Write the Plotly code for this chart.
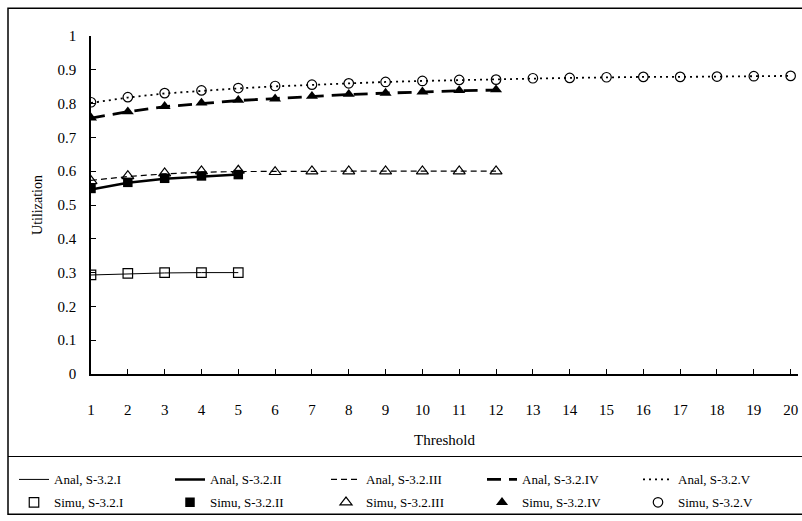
import plotly.graph_objects as go

thresholds = list(range(1, 21))

anal_I = [0.293, 0.297, 0.299, 0.300, 0.300]
simu_I = [0.293, 0.298, 0.300, 0.300, 0.300]
anal_II = [0.546, 0.566, 0.578, 0.585, 0.590]
simu_II = [0.549, 0.567, 0.579, 0.586, 0.590]
anal_III = [0.573, 0.584, 0.592, 0.597, 0.599, 0.600, 0.600, 0.600, 0.600, 0.600, 0.600, 0.600]
simu_III = [0.571, 0.586, 0.594, 0.600, 0.602, 0.598, 0.600, 0.600, 0.600, 0.600, 0.600, 0.600]
anal_IV = [0.757, 0.776, 0.791, 0.801, 0.809, 0.815, 0.822, 0.827, 0.831, 0.835, 0.838, 0.840]
simu_IV = [0.758, 0.776, 0.792, 0.802, 0.810, 0.814, 0.822, 0.828, 0.831, 0.835, 0.839, 0.841]
anal_V = [0.802, 0.818, 0.830, 0.838, 0.845, 0.851, 0.856, 0.860, 0.864, 0.867, 0.870, 0.871,
          0.874, 0.876, 0.878, 0.879, 0.879, 0.880, 0.881, 0.882]
simu_V = [0.804, 0.819, 0.831, 0.839, 0.846, 0.852, 0.856, 0.860, 0.864, 0.867, 0.870, 0.871,
          0.875, 0.876, 0.878, 0.879, 0.879, 0.880, 0.881, 0.882]

names = ["S-3.2.I", "S-3.2.II", "S-3.2.III", "S-3.2.IV", "S-3.2.V"]
anal = [anal_I, anal_II, anal_III, anal_IV, anal_V]
simu = [simu_I, simu_II, simu_III, simu_IV, simu_V]

line_styles = [
    dict(color="black", width=1, dash="solid"),
    dict(color="black", width=2.5, dash="solid"),
    dict(color="black", width=1.2, dash="6px,4px"),
    dict(color="black", width=2.8, dash="14px,8px"),
    dict(color="black", width=1.8, dash="2px,4px"),
]
marker_styles = [
    dict(symbol="square-open", size=9.5, color="black", line=dict(width=1.2, color="black")),
    dict(symbol="square", size=9.5, color="black"),
    dict(symbol="triangle-up-open", size=10.5, color="black", line=dict(width=1.2, color="black")),
    dict(symbol="triangle-up", size=10.5, color="black"),
    dict(symbol="circle-open", size=9.5, color="black", line=dict(width=1.2, color="black")),
]

fig = go.Figure()
for n, vals, ls in zip(names, anal, line_styles):
    fig.add_trace(go.Scatter(x=thresholds[:len(vals)], y=vals, mode="lines",
                             name="Anal, " + n, line=ls, legend="legend"))
for n, vals, ms in zip(names, simu, marker_styles):
    fig.add_trace(go.Scatter(x=thresholds[:len(vals)], y=vals, mode="markers",
                             name="Simu, " + n, marker=ms, legend="legend2"))

font = "Liberation Serif, Times New Roman, serif"

def px_x(p):
    return (p - 91) / 707.0

def px_y(p):
    return (376 - p) / 340.0

legend_common = dict(orientation="h", x=px_x(14), xanchor="left", yanchor="top",
                     entrywidth=111, font=dict(family=font, size=13, color="black"),
                     bgcolor="rgba(0,0,0,0)", borderwidth=0, itemwidth=30)

fig.update_layout(
    width=802, height=521,
    margin=dict(l=91, r=4, t=36, b=145),
    paper_bgcolor="white", plot_bgcolor="white",
    font=dict(family=font, size=15, color="black"),
    showlegend=True,
    legend=dict(y=px_y(467), **legend_common),
    legend2=dict(y=px_y(490), **legend_common),
    xaxis=dict(range=[1, 20.2], tickmode="array", tickvals=thresholds,
               ticktext=[str(t) for t in thresholds], ticks="inside", ticklen=5,
               tickcolor="black", showline=True, linecolor="black", linewidth=1.5,
               showgrid=False, zeroline=False, ticklabelstandoff=21,
               tickfont=dict(family=font, size=15),
               title=dict(text="Threshold", font=dict(family=font, size=15), standoff=18)),
    yaxis=dict(range=[0, 1], tickvals=[i / 10 for i in range(11)],
               ticktext=["0", "0.1", "0.2", "0.3", "0.4", "0.5", "0.6", "0.7", "0.8", "0.9", "1"],
               ticks="inside", ticklen=5, tickcolor="black", showline=True,
               linecolor="black", linewidth=1.5, showgrid=False, zeroline=False,
               ticklabelstandoff=10, tickfont=dict(family=font, size=15),
               title=dict(text="Utilization", font=dict(family=font, size=14), standoff=12)),
    shapes=[
        dict(type="rect", xref="paper", yref="paper", x0=px_x(8), x1=px_x(803),
             y0=px_y(517), y1=px_y(8), line=dict(color="black", width=1.5), layer="below"),
        dict(type="line", xref="paper", yref="paper", x0=px_x(8), x1=px_x(803),
             y0=px_y(459), y1=px_y(459), line=dict(color="black", width=1)),
    ],
)

fig.write_html("out.html")
